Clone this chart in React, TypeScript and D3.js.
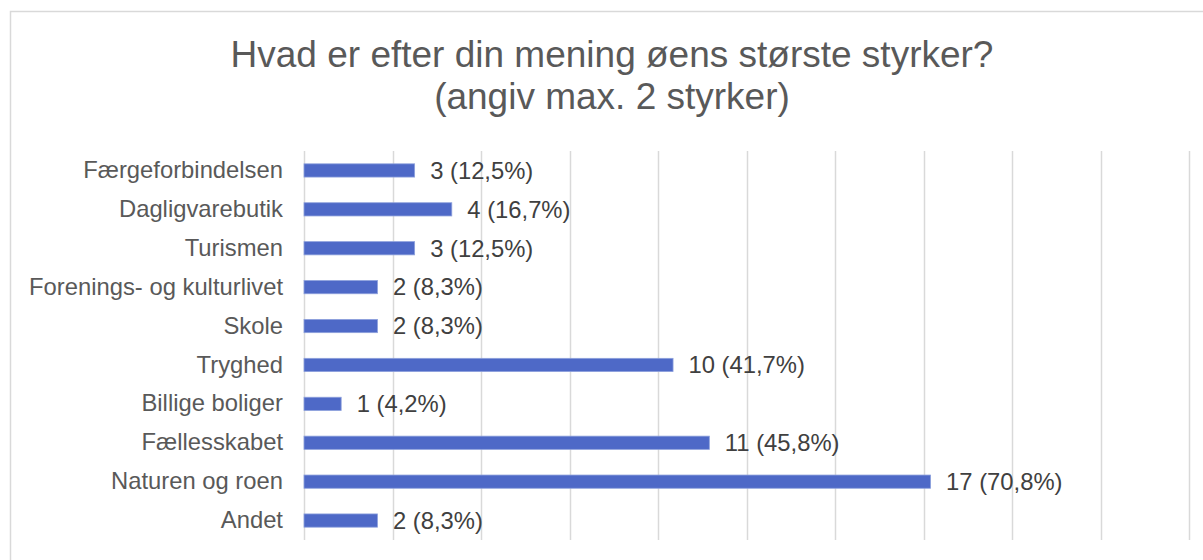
import { useEffect, useRef } from 'react';
import * as d3 from 'd3';

const categories = [
  'Færgeforbindelsen',
  'Dagligvarebutik',
  'Turismen',
  'Forenings- og kulturlivet',
  'Skole',
  'Tryghed',
  'Billige boliger',
  'Fællesskabet',
  'Naturen og roen',
  'Andet',
];
const counts = [3, 4, 3, 2, 2, 10, 1, 11, 17, 2];
const shares = [0.125, 0.167, 0.125, 0.083, 0.083, 0.417, 0.042, 0.458, 0.708, 0.083];
const gridTicks = [0, 0.1, 0.2, 0.3, 0.4, 0.5, 0.6, 0.7, 0.8, 0.9, 1];
const titleLines = ['Hvad er efter din mening øens største styrker?', '(angiv max. 2 styrker)'];

const FONT = "'Liberation Sans', Arial, sans-serif";

export default function App() {
  const svgRef = useRef<SVGSVGElement>(null);

  useEffect(() => {
    const svg = d3.select(svgRef.current);
    if (!svg.node()) return;
    svg.selectAll('*').remove();

    const width = 1203;
    const height = 560;
    const plot = { left: 304, right: 1189, top: 151, bottom: 540 };

    // outer chart frame (cropped at right/bottom in the source)
    svg.append('rect')
      .attr('x', 10.5)
      .attr('y', 11.5)
      .attr('width', 1200)
      .attr('height', 600)
      .attr('fill', '#fff')
      .attr('stroke', '#d9d9d9')
      .attr('stroke-width', 1.5);

    svg.append('text')
      .attr('x', 612)
      .attr('y', 66.5)
      .attr('text-anchor', 'middle')
      .attr('font-family', FONT)
      .attr('font-size', 37)
      .attr('fill', '#595959')
      .selectAll('tspan')
      .data(titleLines)
      .join('tspan')
      .attr('x', 612)
      .attr('dy', (_, i) => (i === 0 ? 0 : 42.5))
      .text((d) => d);

    const x = d3.scaleLinear().domain([0, 1]).range([plot.left, plot.right]);
    const y = d3.scaleBand().domain(categories).range([plot.top, plot.bottom]).paddingInner(0.66).paddingOuter(0.33);

    svg.append('g')
      .selectAll('line')
      .data(gridTicks)
      .join('line')
      .attr('x1', (d) => Math.round(x(d)) + 0.5)
      .attr('x2', (d) => Math.round(x(d)) + 0.5)
      .attr('y1', plot.top)
      .attr('y2', plot.bottom)
      .attr('stroke', '#d9d9d9')
      .attr('stroke-width', 1.5);

    const rows = categories.map((c, i) => ({ c, n: counts[i], p: shares[i] }));

    svg.append('g')
      .selectAll('rect')
      .data(rows)
      .join('rect')
      .attr('x', x(0))
      .attr('y', (d) => y(d.c)!)
      .attr('width', (d) => x(d.p) - x(0))
      .attr('height', y.bandwidth())
      .attr('fill', '#4e69c7')
      .attr('stroke', '#8da0dc')
      .attr('stroke-width', 0.8);

    svg.append('g')
      .selectAll('text')
      .data(rows)
      .join('text')
      .attr('x', (d) => x(d.p) + 15.5)
      .attr('y', (d) => y(d.c)! + y.bandwidth() / 2)
      .attr('dy', '0.35em')
      .attr('font-family', FONT)
      .attr('font-size', 23.8)
      .attr('fill', '#404040')
      .text((d) => `${d.n} (${(d.p * 100).toFixed(1).replace('.', ',')}%)`);

    svg.append('g')
      .attr('transform', `translate(${plot.left},0)`)
      .call(d3.axisLeft(y).tickSize(0).tickPadding(21))
      .call((sel) => sel.select('.domain').remove())
      .call((sel) =>
        sel.selectAll('text')
          .attr('font-family', FONT)
          .attr('font-size', 23.8)
          .attr('fill', '#595959'),
      );

    svg.attr('viewBox', `0 0 ${width} ${height}`);
  }, []);

  return (
    <svg
      ref={svgRef}
      width={1203}
      height={560}
      style={{ position: 'absolute', left: 0, top: 0, display: 'block' }}
    />
  );
}
